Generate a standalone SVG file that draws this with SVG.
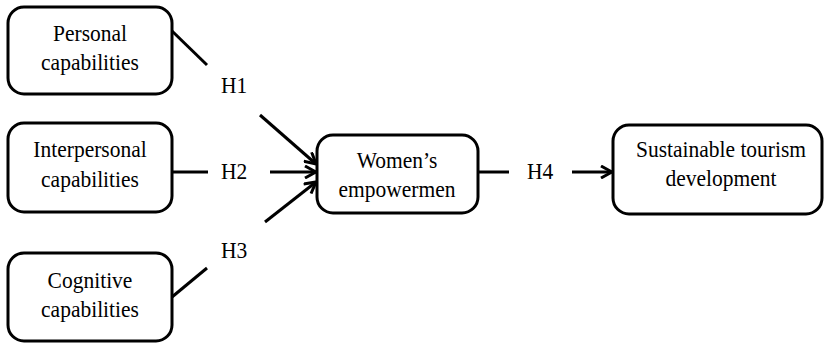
<svg xmlns="http://www.w3.org/2000/svg" width="825" height="343" viewBox="0 0 825 343">
  <style>
    .box { fill: #ffffff; stroke: #000000; stroke-width: 3; }
    .lbl { font-family: "Liberation Serif", "Times New Roman", serif; font-size: 21.5px; fill: #000000; text-anchor: middle; }
    .hyp { font-family: "Liberation Serif", "Times New Roman", serif; font-size: 21.5px; fill: #000000; }
    .conn { fill: none; stroke: #000000; stroke-width: 3; }
  </style>
  <defs>
    <marker id="arrow" viewBox="0 0 14 14" refX="12" refY="7" markerWidth="14" markerHeight="14" markerUnits="userSpaceOnUse" orient="auto">
      <path d="M1,1 L12,7 L1,13" fill="none" stroke="#000000" stroke-width="3" stroke-linejoin="miter"/>
    </marker>
  </defs>
  <rect width="825" height="343" fill="#ffffff"/>

  <g id="connectors">
    <!-- Personal capabilities to Women's empowerment (H1) -->
    <line class="conn" x1="172" y1="31" x2="207" y2="65"/>
    <line class="conn" x1="260" y1="115" x2="316" y2="164" marker-end="url(#arrow)"/>
    <!-- Interpersonal capabilities (H2) -->
    <line class="conn" x1="172" y1="172" x2="208" y2="172"/>
    <line class="conn" x1="270" y1="172" x2="316" y2="172" marker-end="url(#arrow)"/>
    <!-- Cognitive capabilities (H3) -->
    <line class="conn" x1="172" y1="297" x2="207" y2="268"/>
    <line class="conn" x1="265" y1="222" x2="316" y2="182" marker-end="url(#arrow)"/>
    <!-- Women's empowerment to Sustainable tourism development (H4) -->
    <line class="conn" x1="478" y1="172" x2="509" y2="172"/>
    <line class="conn" x1="572" y1="172" x2="612" y2="172" marker-end="url(#arrow)"/>
  </g>

  <!-- text is drawn slightly taller than wide, as in the original layout -->
  <g id="labels">
    <text class="hyp" transform="translate(221,93) scale(1,1.1)">H1</text>
    <text class="hyp" transform="translate(221,179) scale(1,1.1)">H2</text>
    <text class="hyp" transform="translate(221,258) scale(1,1.1)">H3</text>
    <text class="hyp" transform="translate(527,179) scale(1,1.1)">H4</text>
  </g>

  <g id="personal">
    <rect class="box" x="8" y="7" width="164" height="87" rx="16" ry="16"/>
    <text class="lbl" transform="translate(90,41) scale(1,1.1)">Personal</text>
    <text class="lbl" transform="translate(90,70) scale(1,1.1)">capabilities</text>
  </g>

  <g id="interpersonal">
    <rect class="box" x="8" y="123" width="164" height="89" rx="16" ry="16"/>
    <text class="lbl" transform="translate(90,157) scale(1,1.1)">Interpersonal</text>
    <text class="lbl" transform="translate(90,187) scale(1,1.1)">capabilities</text>
  </g>

  <g id="cognitive">
    <rect class="box" x="8" y="253" width="164" height="88" rx="16" ry="16"/>
    <text class="lbl" transform="translate(90,288) scale(1,1.1)">Cognitive</text>
    <text class="lbl" transform="translate(90,317) scale(1,1.1)">capabilities</text>
  </g>

  <g id="empowerment">
    <rect class="box" x="317" y="135" width="161" height="78" rx="16" ry="16"/>
    <text class="lbl" transform="translate(397,168) scale(1,1.1)">Women’s</text>
    <text class="lbl" transform="translate(397,197) scale(1,1.1)">empowermen</text>
  </g>

  <g id="tourism">
    <rect class="box" x="613" y="125" width="209" height="89" rx="16" ry="16"/>
    <text class="lbl" transform="translate(721,157) scale(1,1.1)">Sustainable tourism</text>
    <text class="lbl" transform="translate(721,186) scale(1,1.1)">development</text>
  </g>
</svg>
